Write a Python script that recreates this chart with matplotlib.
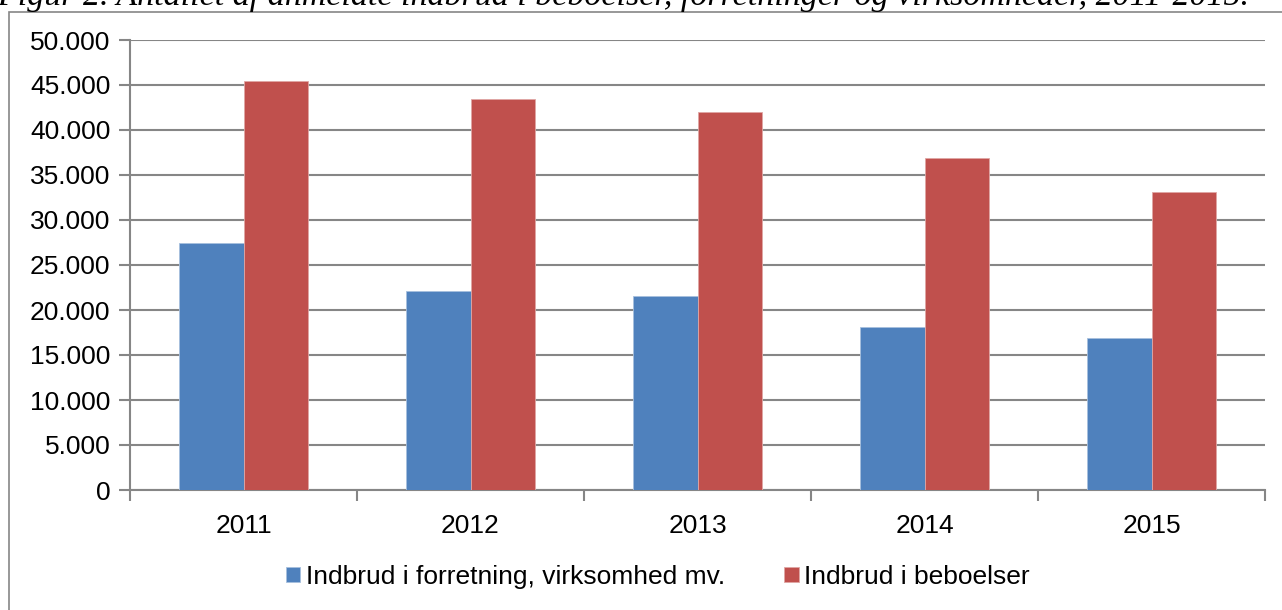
import matplotlib.pyplot as plt
import numpy as np
from matplotlib.patches import Rectangle

years = ['2011', '2012', '2013', '2014', '2015']
forretning = [27400, 22100, 21600, 18100, 16900]
beboelser = [45400, 43400, 42000, 36850, 33100]
yticks = [0, 5000, 10000, 15000, 20000, 25000, 30000, 35000, 40000, 45000, 50000]
ytick_labels = ['0', '5.000', '10.000', '15.000', '20.000', '25.000', '30.000',
                '35.000', '40.000', '45.000', '50.000']
title = 'Figur 2. Antallet af anmeldte indbrud i beboelser, forretninger og virksomheder, 2011-2015.'

plt.rcParams['font.family'] = ['Liberation Sans', 'DejaVu Sans']

W, H = 1282, 610
fig = plt.figure(figsize=(W / 100, H / 100), dpi=100)

# chart border (right and bottom edges fall outside the picture)
fig.patches.append(Rectangle((9 / W, -0.05), 1.1, 1.05 - 12 / H,
                             transform=fig.transFigure, fill=False,
                             edgecolor='#868686', linewidth=1.2))

# caption above the chart, cut off at the top
fig.text(-0.002, 1 - 5 / H, title, fontsize=24.5, fontstyle='italic',
         family='Liberation Serif', ha='left', va='baseline')

ax = fig.add_axes([130 / W, 120 / H, 1135 / W, 450 / H])

x = np.arange(len(years))
w = 0.284
ax.bar(x - w / 2, forretning, w, color='#4F81BD', edgecolor='#A7C0DE',
       linewidth=0.6, label='Indbrud i forretning, virksomhed mv.', zorder=3)
ax.bar(x + w / 2, beboelser, w, color='#C0504D', edgecolor='#E0A6A4',
       linewidth=0.6, label='Indbrud i beboelser', zorder=3)

ax.set_xlim(-0.5, len(years) - 0.5)
ax.set_ylim(0, 50000)
ax.set_yticks(yticks)
ax.set_yticklabels(ytick_labels, fontsize=19)
ax.set_xticks(x)
ax.set_xticklabels(years, fontsize=19)
ax.set_xticks(np.arange(len(years) + 1) - 0.5, minor=True)
ax.tick_params(axis='x', which='major', length=0, pad=17)
ax.tick_params(axis='x', which='minor', length=8, width=1.5, color='#868686')
ax.tick_params(axis='y', length=8, width=1.5, color='#868686', pad=6)

ax.grid(axis='y', color='#868686', linewidth=1.5, zorder=0)
for s in ['top', 'right']:
    ax.spines[s].set_visible(False)
for s in ['left', 'bottom']:
    ax.spines[s].set_color('#868686')
    ax.spines[s].set_linewidth(1.5)

ax.legend(loc='center', bbox_to_anchor=(0.465, -0.193), ncol=2, frameon=False,
          fontsize=19, handlelength=0.55, handleheight=0.55, handletextpad=0.2,
          columnspacing=2.25)

plt.savefig('out.png', dpi=100)
